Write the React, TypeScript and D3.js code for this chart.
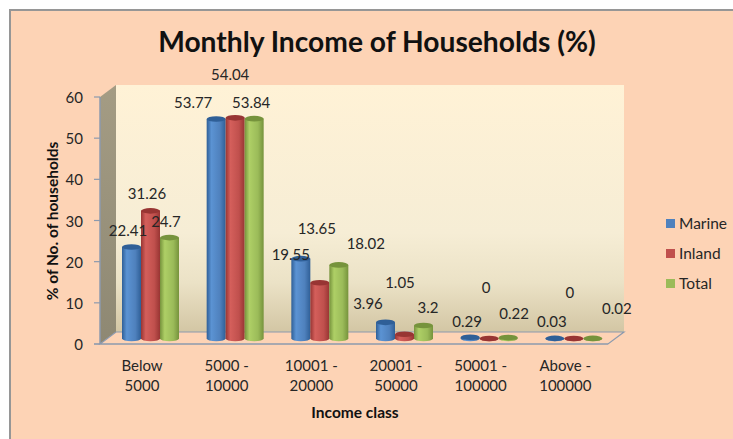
import React from "react";
import * as d3 from "d3";

const categories = [["Below", "5000"], ["5000 -", "10000"], ["10001 -", "20000"], ["20001 -", "50000"], ["50001 -", "100000"], ["Above -", "100000"]];
const seriesNames = ["Marine", "Inland", "Total"];
const marine = [22.41, 53.77, 19.55, 3.96, 0.29, 0.03];
const inland = [31.26, 54.04, 13.65, 1.05, 0, 0];
const total = [24.7, 53.84, 18.02, 3.2, 0.22, 0.02];
const yTicks = [0, 10, 20, 30, 40, 50, 60];
const seriesValues = [marine, inland, total];
const colors = ["#4F81BD", "#C0504D", "#9BBB59"];
const darks = ["#2F5F97", "#983533", "#76933C"];
const lights = ["#5B93D3", "#D45F5B", "#AECF66"];
// label offset from the bar top, in px
const labelDy = [
  [11, 12, 10.6],
  [11, 38, 10.7],
  [-1.3, 48.8, 16],
  [13.3, 46, 12],
  [10, 45.5, 18.6],
  [11, 40.5, 24],
];
const labelDx = [
  [-3.5, -3.5, -3.5],
  [-23, -5, -3],
  [-10, -3, 27],
  [-17.5, -4.5, 4.5],
  [-3, -3, 6],
  [-3, -4, 24],
];

const font = "Lato, 'Open Sans', sans-serif";
const textCol = "#262626";

export default function App() {
  const fx0 = 100, fx1 = 608, fy = 344, dx = 16, dy = 12;
  const y = d3.scaleLinear().domain([0, 60]).range([fy, 97]);
  const barY = d3.scaleLinear().domain([0, 60]).range([338.5, 93.5]);
  const xs = d3.scaleBand<number>().domain(d3.range(6)).range([fx0, fx1]);
  const bw = 19;
  const wallTop = y(60) - dy;
  return (
    <svg width={733} height={439} style={{ position: "fixed", left: 0, top: 0, display: "block" }}>
      <defs>
        <linearGradient id="wall" x1="0" y1="0" x2="0" y2="1">
          <stop offset="0" stopColor="#FFF2D6" />
          <stop offset="0.6" stopColor="#F6EDD5" />
          <stop offset="0.8" stopColor="#EBE2C6" />
          <stop offset="1" stopColor="#D3C6A4" />
        </linearGradient>
        <linearGradient id="side" x1="0" y1="0" x2="0" y2="1">
          <stop offset="0" stopColor="#A49C84" />
          <stop offset="1" stopColor="#8E8873" />
        </linearGradient>
        {colors.map((c, i) => (
          <linearGradient key={i} id={`bar${i}`} x1="0" y1="0" x2="1" y2="0">
            <stop offset="0" stopColor={darks[i]} />
            <stop offset="0.25" stopColor={lights[i]} />
            <stop offset="0.7" stopColor={c} />
            <stop offset="1" stopColor={darks[i]} />
          </linearGradient>
        ))}
      </defs>
      <rect x={0} y={0} width={733} height={439} fill="#FDD3B5" />
      <path d="M10,439 L10,10 L733,10" fill="none" stroke="#969696" strokeWidth={2} />
      <path d="M0,0 H733 V9 H9 V439 H0 Z" fill="#FFFFFF" />

      <text x={377} y={52} textAnchor="middle" fontFamily={font} fontSize={28.2} fontWeight={700} fill="#111">Monthly Income of Households (%)</text>

      {/* walls */}
      <rect x={fx0 + dx} y={wallTop} width={fx1 - fx0} height={fy - dy - wallTop} fill="url(#wall)" />
      <polygon points={`${fx0},${y(60)} ${fx0 + dx},${wallTop} ${fx0 + dx},${fy - dy} ${fx0},${fy}`} fill="url(#side)" />
      <polygon points={`${fx0},${fy} ${fx0 + dx},${fy - dy} ${fx1 + dx},${fy - dy} ${fx1},${fy}`} fill="#FDD3B5" stroke="#8C9AAE" strokeWidth={1.2} />

      {/* y axis */}
      <line x1={fx0} x2={fx0} y1={y(60)} y2={fy} stroke="#8C9AAE" strokeWidth={1.5} />
      {yTicks.map((t) => (
        <g key={t}>
          <line x1={fx0 - 6} x2={fx0} y1={y(t)} y2={y(t)} stroke="#8C9AAE" strokeWidth={1.2} />
          <text x={83} y={y(t) + 6} textAnchor="end" fontFamily={font} fontSize={15} fill={textCol}>{t}</text>
        </g>
      ))}
      <line x1={fx0 - 6} x2={fx1} y1={fy} y2={fy} stroke="#8C9AAE" strokeWidth={1.2} />

      {/* bars */}
      {categories.map((_, ci) => {
        const cx0 = xs(ci)! + 22;
        return (
          <g key={ci}>
            {seriesValues.map((vals, si) => {
              const x = cx0 + si * bw;
              const v = vals[ci];
              const top = barY(v);
              const base = barY(0);
              const rx = bw / 2;
              const ry = 2.8;
              return (
                <g key={si}>
                  <path
                    d={`M${x},${top} L${x},${base} A${rx},${ry} 0 0 0 ${x + bw},${base} L${x + bw},${top} Z`}
                    fill={`url(#bar${si})`}
                  />
                  <ellipse cx={x + rx} cy={top} rx={rx} ry={ry} fill={darks[si]} />
                </g>
              );
            })}
          </g>
        );
      })}

      {/* value labels */}
      {categories.map((_, ci) => {
        const cx0 = xs(ci)! + 22;
        return seriesValues.map((vals, si) => (
          <text
            key={`${ci}-${si}`}
            x={cx0 + si * bw + bw / 2 + labelDx[ci][si]}
            y={barY(vals[ci]) - labelDy[ci][si]}
            textAnchor="middle"
            fontFamily={font}
            fontSize={15}
            fill={textCol}
          >
            {vals[ci]}
          </text>
        ));
      })}

      {/* category labels */}
      {categories.map((lines, ci) => (
        <text key={ci} textAnchor="middle" fontFamily={font} fontSize={15} fill={textCol}>
          {lines.map((l, i) => (
            <tspan key={i} x={xs(ci)! + 42} y={371 + i * 20}>{l}</tspan>
          ))}
        </text>
      ))}

      <text x={355} y={418} textAnchor="middle" fontFamily={font} fontSize={15.5} fontWeight={700} fill="#111">Income class</text>
      <text transform="translate(58,221) rotate(-90)" textAnchor="middle" fontFamily={font} fontSize={15.5} fontWeight={700} fill="#111">% of No. of households</text>

      {/* legend */}
      {seriesNames.map((n, i) => (
        <g key={n}>
          <rect x={666} y={219 + i * 30} width={9} height={9} fill={colors[i]} />
          <text x={679} y={229 + i * 30} fontFamily={font} fontSize={15.5} fill={textCol}>{n}</text>
        </g>
      ))}
    </svg>
  );
}
